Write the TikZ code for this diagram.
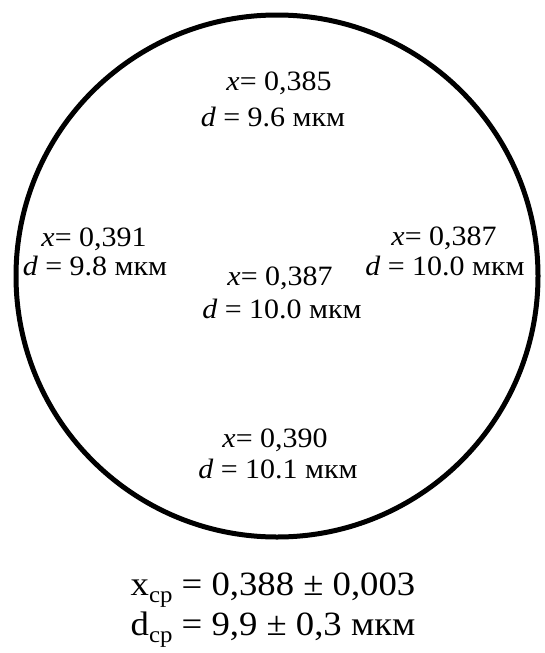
\documentclass[tikz,border=0pt]{standalone}
\usepackage{fontspec}
\setmainfont{Liberation Serif}
\begin{document}
\begin{tikzpicture}[x=1pt,y=-1pt,
  lbl/.style={anchor=base,inner sep=0pt,xscale=1.07,font=\fontsize{28}{30}\selectfont},
  res/.style={anchor=base,inner sep=0pt,xscale=1.08,font=\fontsize{34}{36}\selectfont},
  rim/.style={draw=black,line width=5pt}]
\useasboundingbox[fill=white] (0,0) rectangle (544,653);
\node[rim,circle,minimum size=522pt,inner sep=0pt] (disk) at (277,276) {};
% top
\node[lbl] (t1) at (279,90) {\textit{x}= 0,385};
\node[lbl] (t2) at (273,126) {\textit{d} = 9.6 мкм};
% left
\node[lbl] (l1) at (94,246) {\textit{x}= 0,391};
\node[lbl] (l2) at (95,275) {\textit{d} = 9.8 мкм};
% right
\node[lbl] (r1) at (444,245) {\textit{x}= 0,387};
\node[lbl] (r2) at (445,275) {\textit{d} = 10.0 мкм};
% center
\node[lbl] (c1) at (280,285) {\textit{x}= 0,387};
\node[lbl] (c2) at (282,318) {\textit{d} = 10.0 мкм};
% bottom
\node[lbl] (b1) at (275,447) {\textit{x}= 0,390};
\node[lbl] (b2) at (278,478) {\textit{d} = 10.1 мкм};
% results
\node[res] (m1) at (273,595) {x\raisebox{-7pt}{\fontsize{23}{23}\selectfont ср} = 0,388 ± 0,003};
\node[res] (m2) at (273,635) {d\raisebox{-7pt}{\fontsize{23}{23}\selectfont ср} = 9,9 ± 0,3 мкм};
\end{tikzpicture}
\end{document}
